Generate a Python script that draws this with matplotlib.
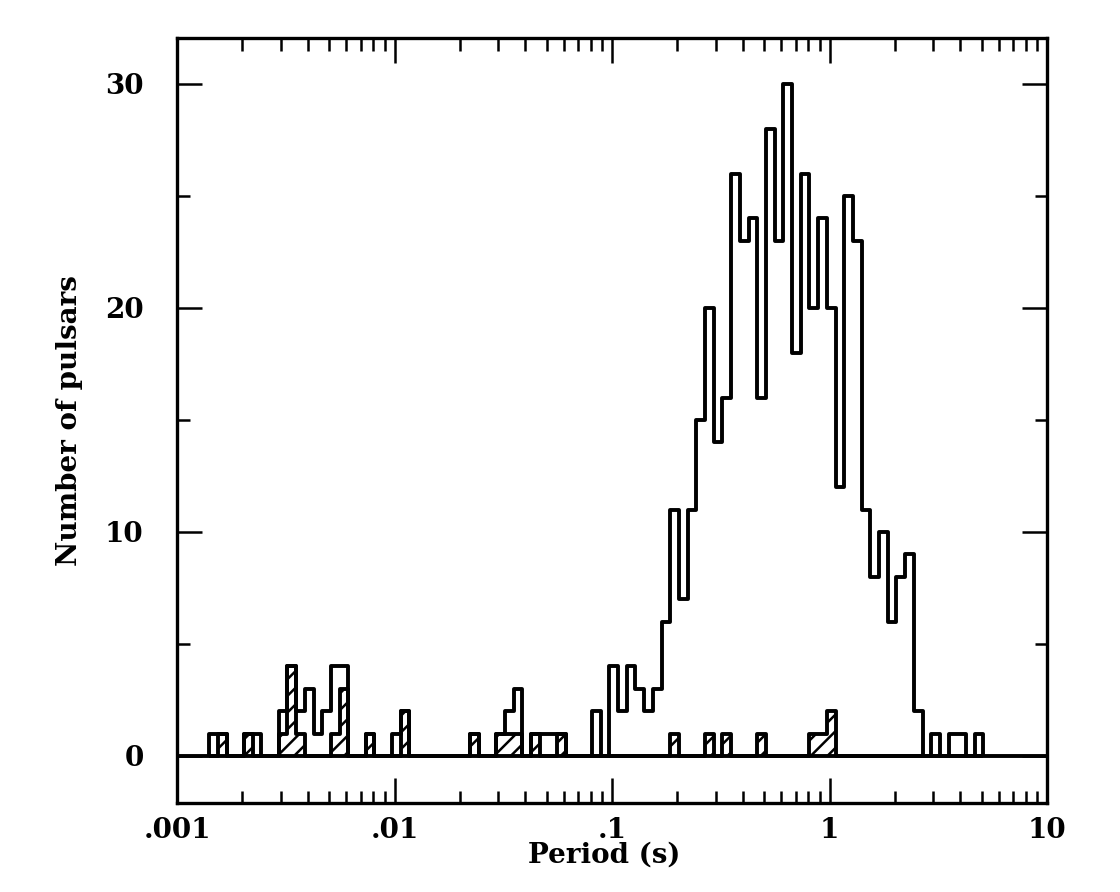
import matplotlib
matplotlib.use('Agg')
import matplotlib.pyplot as plt
import numpy as np
from matplotlib.ticker import LogLocator, NullFormatter

# period bins: 0.04 dex wide, first left edge at log10(P) = -2.852
first_edge_log = -2.852
bin_width_log = 0.04

# all pulsars per bin
all_pulsars = [1, 1, 0, 0, 1, 1, 0, 0, 2, 4,
               2, 3, 1, 2, 4, 4, 0, 0, 1, 0,
               0, 1, 2, 0, 0, 0, 0, 0, 0, 0,
               1, 0, 0, 1, 2, 3, 0, 1, 1, 1,
               1, 0, 0, 0, 2, 0, 4, 2, 4, 3,
               2, 3, 6, 11, 7, 11, 15, 20, 14, 16,
               26, 23, 24, 16, 28, 23, 30, 18, 26, 20,
               24, 20, 12, 25, 23, 11, 8, 10, 6, 8,
               9, 2, 0, 1, 0, 1, 1, 0, 1]

# binary pulsars per bin (hatched)
binary_pulsars = [0, 1, 0, 0, 1, 0, 0, 0, 1, 4,
                  1, 0, 0, 0, 1, 3, 0, 0, 1, 0,
                  0, 0, 2, 0, 0, 0, 0, 0, 0, 0,
                  1, 0, 0, 1, 1, 1, 0, 1, 0, 0,
                  1, 0, 0, 0, 0, 0, 0, 0, 0, 0,
                  0, 0, 0, 1, 0, 0, 0, 1, 0, 1,
                  0, 0, 0, 1, 0, 0, 0, 0, 0, 1,
                  1, 2, 0, 0, 0, 0, 0, 0, 0, 0,
                  0, 0, 0, 0, 0, 0, 0, 0, 0]

x_ticks = [0.001, 0.01, 0.1, 1, 10]
x_tick_labels = ['.001', '.01', '.1', '1', '10']
y_ticks = [0, 10, 20, 30]
y_minor_ticks = [5, 15, 25]

edges = 10 ** (first_edge_log + bin_width_log * np.arange(len(all_pulsars) + 1))

plt.rcParams['font.family'] = ['DejaVu Serif']
plt.rcParams['font.weight'] = 'bold'
plt.rcParams['hatch.linewidth'] = 1.8

fig = plt.figure(figsize=(11.2, 8.92), dpi=100)
ax = fig.add_axes([177 / 1120, 1 - 803 / 892, 870 / 1120, 765 / 892])

ax.axhline(0, color='black', lw=2.8)

# hatched binary bars, then outlines
hatch = ax.stairs(binary_pulsars, edges, fill=True, facecolor='white',
                  edgecolor='black', hatch='//', lw=0)
outl = ax.stairs(binary_pulsars, edges, color='black', lw=2.8)
tot = ax.stairs(all_pulsars, edges, color='black', lw=2.8)
for p in (outl, tot):
    p.set_joinstyle('round')

ax.set_xscale('log')
ax.set_xlim(1e-3, 10)
ax.set_ylim(-2.1, 32.05)

ax.set_xticks(x_ticks)
ax.set_xticklabels(x_tick_labels)
ax.xaxis.set_minor_locator(LogLocator(base=10, subs=np.arange(2, 10) * 1.0, numticks=20))
ax.xaxis.set_minor_formatter(NullFormatter())
ax.set_yticks(y_ticks)
ax.set_yticks(y_minor_ticks, minor=True)

ax.tick_params(which='both', direction='in', top=True, right=True, width=1.8)
ax.tick_params(which='major', length=18, labelsize=20)
ax.tick_params(which='minor', length=9)
ax.tick_params(axis='y', pad=24)
ax.tick_params(axis='x', pad=10)

for s in ax.spines.values():
    s.set_linewidth(2.4)

ax.set_ylabel('Number of pulsars', fontsize=20, fontweight='bold')
ax.yaxis.set_label_coords(-0.108, 0.5)
ax.set_xlabel('Period (s)', fontsize=20, fontweight='bold')
ax.xaxis.set_label_coords(0.491, -0.05)

fig.savefig('out.png', dpi=100)
